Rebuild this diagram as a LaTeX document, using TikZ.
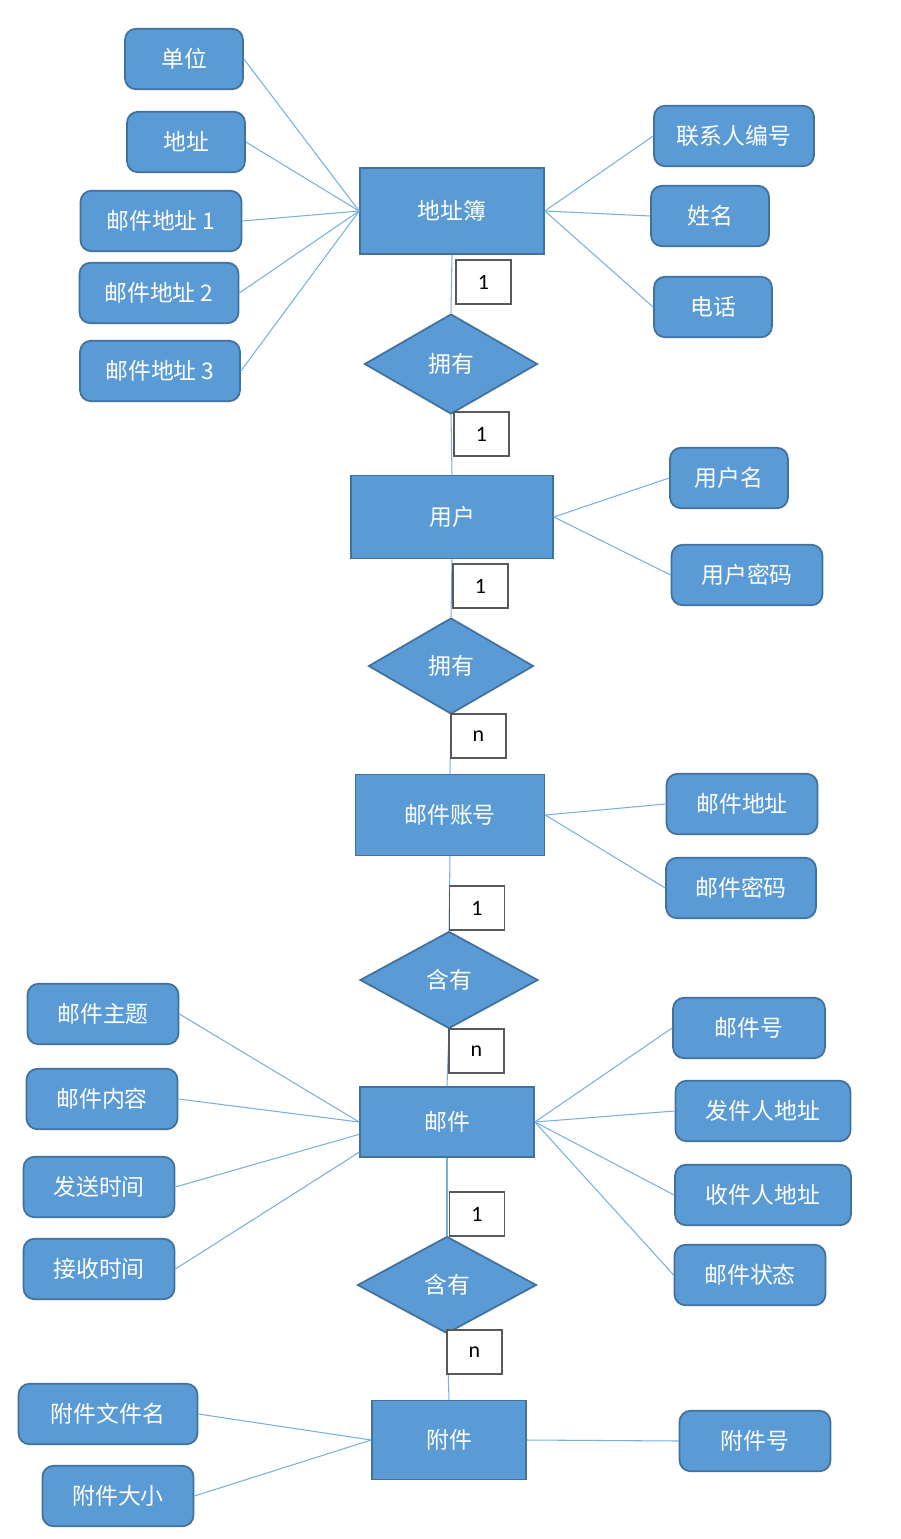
\documentclass[tikz,border=0pt]{standalone}
\usepackage{fontspec}
\setmainfont{Noto Sans CJK SC}
\newfontfamily\cardfont{Carlito}
\usetikzlibrary{shapes.geometric,positioning}

\definecolor{erfill}{HTML}{5B9BD5}
\definecolor{erborder}{HTML}{41719C}
\definecolor{erline}{HTML}{7AAFE2}

\tikzset{
  entity/.style={draw=erborder,line width=1pt,fill=erfill,text=white,
    font=\fontsize{13}{15}\selectfont,inner sep=0pt},
  attr/.style={draw=erborder,line width=1pt,fill=erfill,text=white,rounded corners=0.22cm,
    minimum height=1.21cm,font=\fontsize{13}{15}\selectfont,inner sep=0pt},
  rel/.style={diamond,draw=erborder,line width=1pt,fill=erfill,text=white,
    font=\fontsize{13}{15}\selectfont,inner sep=0pt},
  card/.style={draw=black!65,line width=0.6pt,fill=white,minimum width=1.1cm,
    minimum height=0.88cm,font=\cardfont\fontsize{12.5}{14}\selectfont},
  link/.style={draw=erline,line width=0.6pt}
}

\begin{document}
\begin{tikzpicture}[x=0.02cm,y=-0.02cm]
  \useasboundingbox (0,0) rectangle (900,1539);

  % entities
  \node[entity,minimum width=3.68cm,minimum height=1.72cm] (book) at (452,211) {地址簿};
  \node[entity,minimum width=4.04cm,minimum height=1.66cm] (user) at (452,517) {用户};
  \node[entity,minimum width=3.78cm,minimum height=1.62cm] (acct) at (450,815) {邮件账号};
  \node[entity,minimum width=3.48cm,minimum height=1.40cm] (mail) at (447,1122) {邮件};
  \node[entity,minimum width=3.08cm,minimum height=1.58cm] (file) at (449,1440) {附件};

  % relations
  \node[rel,minimum width=3.46cm,minimum height=2.00cm] (has1) at (451,364) {拥有};
  \node[rel,minimum width=3.30cm,minimum height=1.92cm] (has2) at (451,666) {拥有};
  \node[rel,minimum width=3.56cm,minimum height=1.94cm] (cont1) at (449,980) {含有};
  \node[rel,minimum width=3.58cm,minimum height=1.94cm] (cont2) at (447,1285) {含有};

  % attributes of 地址簿
  \node[attr,minimum width=2.36cm] (unit) at (184,59) {单位};
  \node[attr,minimum width=2.36cm] (addr) at (186,142) {地址};
  \node[attr,minimum width=3.22cm] (maddr1) at (161,221) {邮件地址 1};
  \node[attr,minimum width=3.18cm] (maddr2) at (159,293) {邮件地址 2};
  \node[attr,minimum width=3.20cm] (maddr3) at (160,371) {邮件地址 3};
  \node[attr,minimum width=3.20cm] (cid) at (734,136) {联系人编号};
  \node[attr,minimum width=2.36cm] (cname) at (710,216) {姓名};
  \node[attr,minimum width=2.36cm] (phone) at (713,307) {电话};

  % attributes of 用户
  \node[attr,minimum width=2.36cm] (uname) at (729,478) {用户名};
  \node[attr,minimum width=3.02cm] (upwd) at (747,575) {用户密码};

  % attributes of 邮件账号
  \node[attr,minimum width=3.02cm] (aaddr) at (742,804) {邮件地址};
  \node[attr,minimum width=3.00cm] (apwd) at (741,888) {邮件密码};

  % attributes of 邮件
  \node[attr,minimum width=3.02cm] (subj) at (103,1014) {邮件主题};
  \node[attr,minimum width=3.02cm] (body) at (102,1099) {邮件内容};
  \node[attr,minimum width=3.02cm] (sent) at (99,1187) {发送时间};
  \node[attr,minimum width=3.02cm] (recv) at (99,1269) {接收时间};
  \node[attr,minimum width=3.04cm] (mid) at (749,1028) {邮件号};
  \node[attr,minimum width=3.50cm] (from) at (763,1111) {发件人地址};
  \node[attr,minimum width=3.52cm] (to) at (763,1195) {收件人地址};
  \node[attr,minimum width=3.02cm] (state) at (750,1275) {邮件状态};

  % attributes of 附件
  \node[attr,minimum width=3.58cm] (fname) at (108,1414) {附件文件名};
  \node[attr,minimum width=3.02cm] (fsize) at (118,1496) {附件大小};
  \node[attr,minimum width=3.02cm] (fid) at (755,1441) {附件号};

  % attribute links
  \foreach \a in {unit,addr,maddr1,maddr2,maddr3}
    \draw[link] (\a.east) -- (book.west);
  \foreach \a in {cid,cname,phone}
    \draw[link] (\a.west) -- (book.east);
  \foreach \a in {uname,upwd}
    \draw[link] (\a.west) -- (user.east);
  \foreach \a in {aaddr,apwd}
    \draw[link] (\a.west) -- (acct.east);
  \draw[link] (subj.east) -- (mail.west);
  \draw[link] (body.east) -- (mail.west);
  \draw[link] (sent.east) -- (mail.188.5);
  \draw[link] (recv.east) -- (mail.199);
  \foreach \a in {mid,from,to,state}
    \draw[link] (\a.west) -- (mail.east);
  \foreach \a in {fname,fsize}
    \draw[link] (\a.east) -- (file.west);
  \draw[link] (fid.west) -- (file.east);

  % relation links
  \draw[link] (book.south) -- (has1.north);
  \draw[link] (has1.south) -- (user.north);
  \draw[link] (user.south) -- (has2.north);
  \draw[link] (has2.south) -- (acct.north);
  \draw[link] (acct.south) -- (cont1.north);
  \draw[link] (cont1.south) -- (mail.north);
  \draw[link] (mail.south) -- (cont2.north);
  \draw[link] (cont2.south) -- (file.north);

  % cardinalities
  \node[card] (k1) at (483.5,282) {1};
  \node[card] (k2) at (481.5,434) {1};
  \node[card] (k3) at (480.5,586) {1};
  \node[card] (k4) at (478.5,736) {n};
  \node[card] (k5) at (477,908) {1};
  \node[card] (k6) at (476.5,1051) {n};
  \node[card] (k7) at (477,1214) {1};
  \node[card] (k8) at (474.5,1352) {n};
\end{tikzpicture}
\end{document}
